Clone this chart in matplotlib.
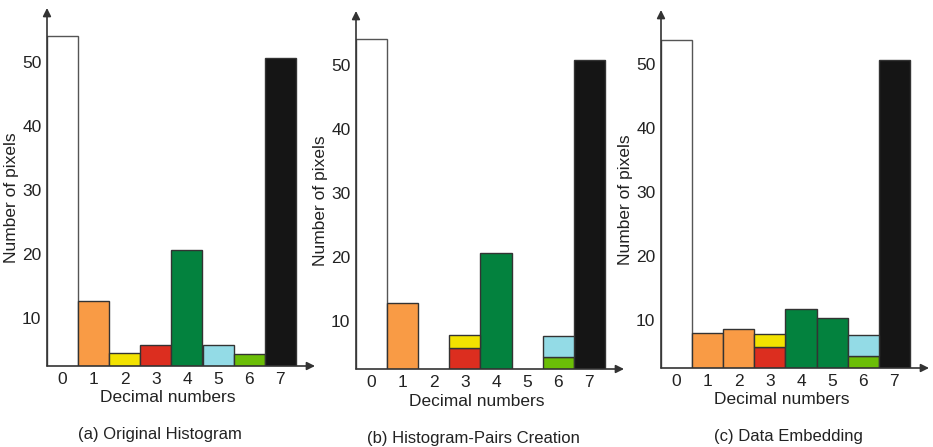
import numpy as np
import matplotlib
matplotlib.use('Agg')
import matplotlib.pyplot as plt

plt.rcParams['font.family'] = ['Liberation Sans', 'DejaVu Sans']

# 灰度值 0..7
bins = [0, 1, 2, 3, 4, 5, 6, 7]
yticks = [10, 20, 30, 40, 50]

white = '#ffffff'
orange = '#f99b45'
yellow = '#f2e200'
red = '#dc2e1f'
green = '#03823e'
cyan = '#93dbe6'
lime = '#6bbe07'
black = '#151515'

# (a) 原始直方图
a_counts = [54.0, 12.7, 4.5, 5.8, 20.6, 5.8, 4.4, 50.6]
a_colors = [white, orange, yellow, red, green, cyan, lime, black]

# (b) 直方图对 (下层 + 上层叠加)
b_lower = [54.0, 12.8, 0, 5.8, 20.6, 0, 4.3, 50.8]
b_lower_colors = [white, orange, white, red, green, white, lime, black]
b_upper = [0, 0, 0, 2.0, 0, 0, 3.4, 0]
b_upper_colors = [white, white, white, yellow, white, white, cyan, white]

# (c) 嵌入数据后
c_lower = [53.7, 8.0, 8.6, 5.8, 11.7, 10.3, 4.3, 50.6]
c_lower_colors = [white, orange, orange, red, green, green, lime, black]
c_upper = [0, 0, 0, 2.0, 0, 0, 3.3, 0]
c_upper_colors = [white, white, white, yellow, white, white, cyan, white]

captions = ['(a) Original Histogram', '(b) Histogram-Pairs Creation', '(c) Data Embedding']

W, H = 933, 447
fig = plt.figure(figsize=(W / 100, H / 100), dpi=100)

# axes position in pixels: (left x, baseline y)
pos = [(47, 366), (356, 369), (661, 368)]
ax_w, ax_h = 268, 358
ylo, yhi = 2.5, 58.4
fs = 12


def draw_panel(ax, lower, lower_c, upper, upper_c):
    for i, (h, c) in enumerate(zip(lower, lower_c)):
        if h > 0:
            ec = '#555555' if c == white else '#333333'
            ax.bar(bins[i], h, width=1.0, color=c, edgecolor=ec, linewidth=1.0)
    for i, (h, c) in enumerate(zip(upper, upper_c)):
        if h > 0:
            ax.bar(bins[i], h, bottom=lower[i], width=1.0, color=c,
                   edgecolor='#333333', linewidth=1.0)


panels = [(a_counts, a_colors, [0] * 8, [white] * 8),
          (b_lower, b_lower_colors, b_upper, b_upper_colors),
          (c_lower, c_lower_colors, c_upper, c_upper_colors)]

for k, (lower, lower_c, upper, upper_c) in enumerate(panels):
    x0, yb = pos[k]
    ax = fig.add_axes([x0 / W, (H - yb) / H, ax_w / W, ax_h / H])
    draw_panel(ax, lower, lower_c, upper, upper_c)
    ax.set_xlim(-0.5, -0.5 + ax_w / 31.1)
    ax.set_ylim(ylo, yhi)
    for s in ax.spines.values():
        s.set_visible(False)
    ax.set_xticks(bins)
    ax.set_yticks(yticks)
    ax.tick_params(length=0, labelsize=fs + 0.5, colors='#222222')
    ax.tick_params(axis='x', pad=4)
    ax.tick_params(axis='y', pad=4)
    # 坐标轴箭头
    ax.annotate('', xy=(1, 0), xytext=(0, 0), xycoords='axes fraction',
                arrowprops=dict(arrowstyle='-|>', color='#333333', lw=1.2,
                                mutation_scale=12, shrinkA=0, shrinkB=0))
    ax.annotate('', xy=(0, 1), xytext=(0, 0), xycoords='axes fraction',
                arrowprops=dict(arrowstyle='-|>', color='#333333', lw=1.2,
                                mutation_scale=12, shrinkA=0, shrinkB=0))
    ax.set_ylabel('Number of pixels', fontsize=fs + 0.5, color='#222222')
    ax.yaxis.set_label_coords(-0.105, 0.47)
    ax.text(0.45, -32 / ax_h, 'Decimal numbers', transform=ax.transAxes,
            ha='center', va='center', fontsize=fs + 0.5, color='#222222')
    cx = [0.42, 0.44, 0.475][k]
    ax.text(cx, -69 / ax_h, captions[k], transform=ax.transAxes,
            ha='center', va='center', fontsize=fs, color='#222222')

fig.savefig('out.png', dpi=100)
